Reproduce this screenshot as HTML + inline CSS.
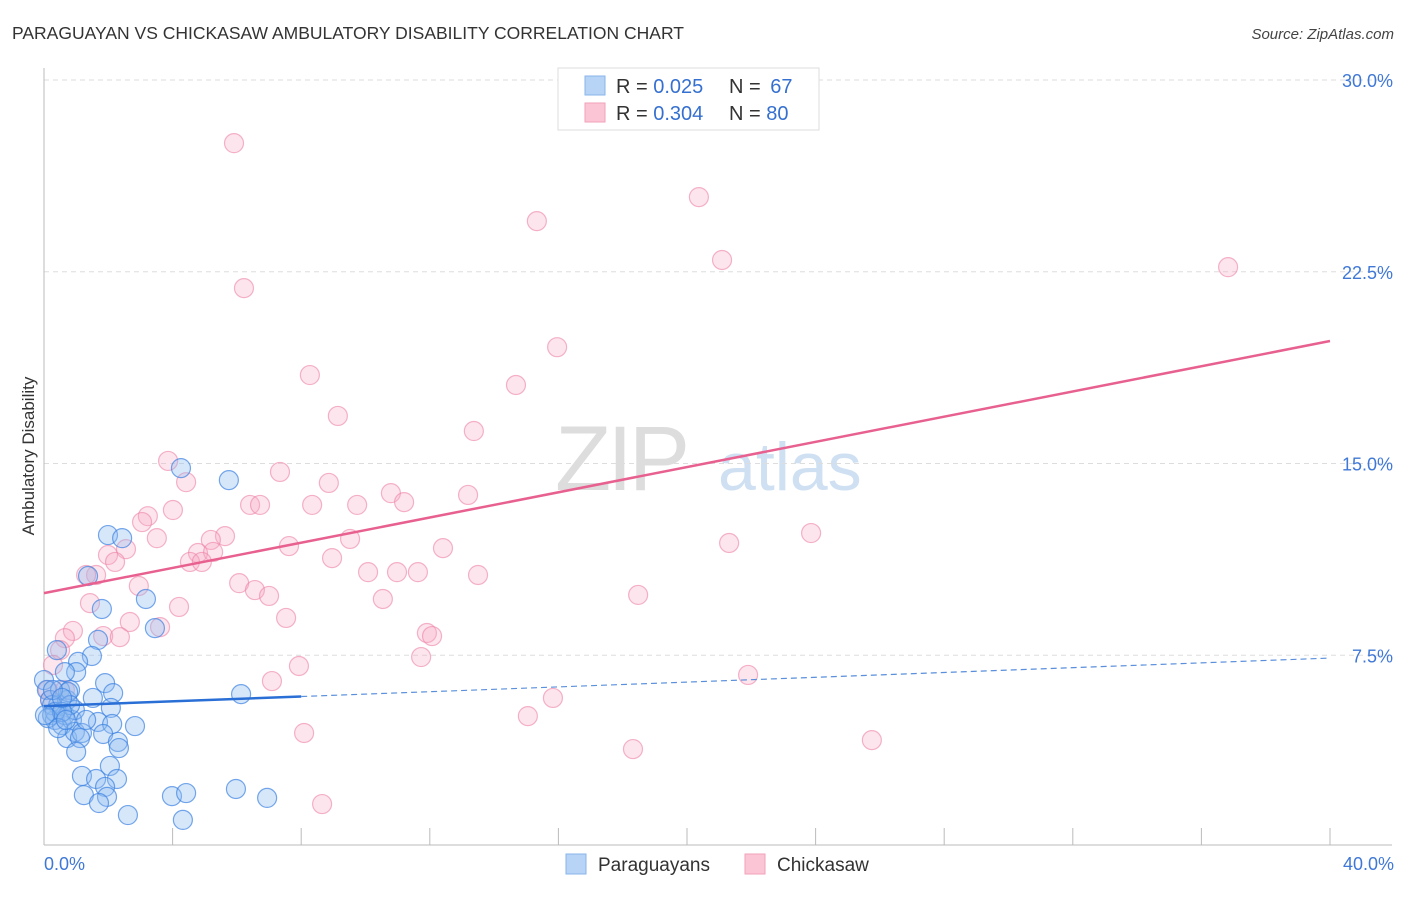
<!DOCTYPE html>
<html><head><meta charset="utf-8"><style>
body{margin:0;background:#fff;font-family:"Liberation Sans",sans-serif}
svg text{font-family:"Liberation Sans",sans-serif}
</style></head><body>
<svg id="chart" width="1406" height="892" xmlns="http://www.w3.org/2000/svg">
<text x="12" y="39" font-size="17.5" fill="#333">PARAGUAYAN VS CHICKASAW AMBULATORY DISABILITY CORRELATION CHART</text>
<text x="1394" y="39" font-size="15" fill="#444" text-anchor="end" font-style="italic">Source: ZipAtlas.com</text>
<g><text x="555" y="490" font-size="92" fill="#ddd" font-family="Liberation Serif" letter-spacing="-4">ZIP</text><text x="718" y="490" font-size="68" fill="#cfe0f3">atlas</text></g>
<text transform="translate(34,456) rotate(-90)" font-size="17" fill="#333" text-anchor="middle">Ambulatory Disability</text>
<g id="grid"></g><g id="axes"></g><g id="pts"></g><g id="lines"></g>
<g>
<rect x="558" y="68" width="261" height="62" fill="#fff" stroke="#ddd"/>
<rect x="585" y="76" width="20" height="19" fill="#b7d3f5" stroke="#88b5ea"/>
<rect x="585" y="103" width="20" height="19" fill="#fcc5d5" stroke="#f2a2ba"/>
<text x="616" y="93" font-size="20" fill="#333">R = <tspan fill="#3570d0">0.025</tspan></text>
<text x="729" y="93" font-size="20" fill="#333">N = <tspan fill="#3570d0" dx="4">67</tspan></text>
<text x="616" y="120" font-size="20" fill="#333">R = <tspan fill="#3570d0">0.304</tspan></text>
<text x="729" y="120" font-size="20" fill="#333">N = <tspan fill="#3570d0">80</tspan></text>
</g>
<g><rect x="566" y="854" width="20" height="20" fill="#b7d3f5" stroke="#88b5ea"/><text x="598" y="871" font-size="19" fill="#333">Paraguayans</text></g>
<g><rect x="745" y="854" width="20" height="20" fill="#fcc5d5" stroke="#f2a2ba"/><text x="777" y="871" font-size="19" fill="#333">Chickasaw</text></g>
</svg>
<script>
const xTicks=[0,4,8,12,16,20,24,28,32,36,40];
const yTicks=[7.5,15,22.5,30];
const yTickLabels=["7.5%","15.0%","22.5%","30.0%"];
const xTickLabels=["0.0%","40.0%"];
const blueX=[0,0.09,0.19,0.25,0.34,0.44,0.5,0.56,0.65,0.72,0.81,0.87,0.96,0.4,1.99,2.43,1.37,1.8,3.17,3.45,4.26,5.75,1.68,1.49,1.06,1.0,0.65,1.9,2.15,1.52,2.08,0.75,0.81,1.68,2.12,2.83,1.84,0.72,0.96,1.18,1.12,2.3,2.33,1.0,2.05,1.18,1.62,2.27,1.9,1.24,1.96,1.71,2.61,3.98,4.42,4.32,5.97,6.94,6.13,0.25,0.34,0.12,0.56,0.44,0.03,0.68,1.31,0.28,0.56];
const blueY=[6.53,6.14,5.75,5.16,4.97,5.55,6.14,4.77,5.16,5.75,6.14,4.97,5.36,7.7,12.2,12.08,10.6,9.31,9.7,8.56,14.82,14.35,8.1,7.47,7.24,6.84,6.84,6.41,6.02,5.83,5.44,6.06,5.55,4.89,4.81,4.73,4.42,4.26,4.5,4.46,4.26,4.11,3.87,3.72,3.17,2.78,2.66,2.66,2.35,2.03,1.96,1.72,1.25,1.99,2.11,1.06,2.27,1.92,5.98,5.55,5.28,5.04,5.28,4.65,5.16,4.97,4.97,6.14,5.83];
const pinkX=[16.83,5.91,20.37,15.33,21.09,36.83,6.22,15.96,8.27,14.68,9.14,13.37,3.86,4.42,7.34,8.86,10.79,13.19,11.2,4.01,6.41,6.72,8.34,9.74,3.23,3.05,3.51,5.63,5.19,2.55,1.99,4.79,5.26,7.62,9.52,12.41,21.31,23.86,2.21,4.54,4.91,8.96,1.62,1.31,2.95,6.07,6.56,7.0,10.08,10.98,11.63,13.5,10.54,18.48,1.43,4.2,7.53,2.67,3.61,0.9,0.65,1.84,2.36,11.91,12.07,0.5,0.28,7.93,11.73,7.09,21.9,15.83,15.05,8.09,18.32,25.75,8.65,0.12,0.19,0.65];
const pinkY=[29.68,27.53,25.42,24.48,22.96,22.68,21.86,19.55,18.46,18.07,16.86,16.27,15.1,14.27,14.67,14.24,13.84,13.77,13.49,13.18,13.38,13.38,13.38,13.38,12.94,12.71,12.08,12.16,12.01,11.65,11.42,11.5,11.54,11.77,12.05,11.69,11.89,12.28,11.15,11.15,11.15,11.3,10.64,10.64,10.21,10.32,10.05,9.82,10.75,10.75,10.75,10.64,9.7,9.86,9.54,9.39,8.96,8.8,8.6,8.45,8.17,8.25,8.21,8.37,8.25,7.7,7.12,7.08,7.43,6.49,6.73,5.83,5.12,4.46,3.83,4.18,1.68,6.14,5.75,6.14];
const blueTrend=[5.51,7.39];
const pinkTrend=[9.93,19.79];
const NS="http://www.w3.org/2000/svg";
const X0=44,X1=1330,YB=847,YT=80;
const xs=v=>X0+(v/40)*(X1-X0);
const ys=v=>YB-(v/30)*(YB-YT);
function mk(tag,attrs,parent){const e=document.createElementNS(NS,tag);for(const k in attrs)e.setAttribute(k,attrs[k]);document.getElementById(parent).appendChild(e);return e;}
yTicks.forEach((t,i)=>{
 const l=mk('line',{x1:44,x2:1392,y1:ys(t),y2:ys(t),stroke:'#ddd','stroke-dasharray':'5,4'},'grid');
 
 
 const tx=mk('text',{x:1393,y:ys(t)+7,'font-size':18,fill:'#3f78d6','text-anchor':'end'},'grid');tx.textContent=yTickLabels[i];
 
 
});
const ax=mk('line',{x1:44,x2:1392,y1:845,y2:845,stroke:'#bbb'},'axes');


const ay=mk('line',{x1:44,x2:44,y1:68,y2:845,stroke:'#bbb'},'axes');


xTicks.forEach(t=>{const l=mk('line',{x1:xs(t),x2:xs(t),y1:828,y2:845,stroke:'#bbb'},'axes');
 
 });
const xl0=mk('text',{x:44,y:870,'font-size':18,fill:'#3f78d6'},'axes');xl0.textContent=xTickLabels[0];


const xl1=mk('text',{x:1394,y:870,'font-size':18,fill:'#3f78d6','text-anchor':'end'},'axes');xl1.textContent=xTickLabels[1];


pinkX.forEach((v,i)=>{const c=mk('circle',{cx:xs(v),cy:ys(pinkY[i]),r:9.5,fill:'rgba(248,170,195,0.3)',stroke:'rgba(236,130,165,0.6)','stroke-width':1.2},'pts');
 
 });
blueX.forEach((v,i)=>{const c=mk('circle',{cx:xs(v),cy:ys(blueY[i]),r:9.5,fill:'rgba(140,185,240,0.35)',stroke:'rgba(60,130,225,0.7)','stroke-width':1.2},'pts');
 
 });
const bAt=x=>blueTrend[0]+(blueTrend[1]-blueTrend[0])*x/40;
const pl=mk('line',{x1:xs(0),y1:ys(pinkTrend[0]),x2:xs(40),y2:ys(pinkTrend[1]),stroke:'#e8608f','stroke-width':2.5},'lines');


const bl=mk('line',{x1:xs(0),y1:ys(bAt(0)),x2:xs(8),y2:ys(bAt(8)),stroke:'#2a6fd6','stroke-width':2.5},'lines');


const bd=mk('line',{x1:xs(8),y1:ys(bAt(8)),x2:xs(40),y2:ys(bAt(40)),stroke:'#5a8fdc','stroke-width':1.2,'stroke-dasharray':'6,4'},'lines');


</script>
</body></html>
